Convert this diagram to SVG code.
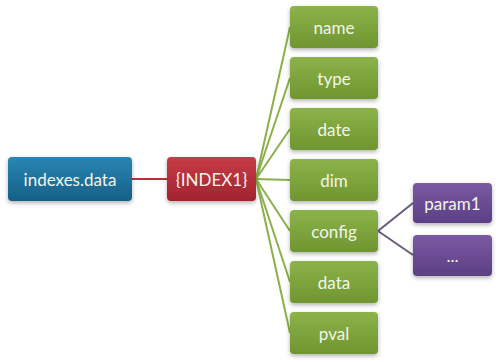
<svg xmlns="http://www.w3.org/2000/svg" width="496" height="362" viewBox="0 0 496 362">
<defs>
<linearGradient id="gBlue" x1="0" y1="0" x2="0" y2="1"><stop offset="0" stop-color="#2a86b3"/><stop offset="1" stop-color="#155f86"/></linearGradient>
<linearGradient id="gRed" x1="0" y1="0" x2="0" y2="1"><stop offset="0" stop-color="#c63c47"/><stop offset="1" stop-color="#a2232f"/></linearGradient>
<linearGradient id="gGreen" x1="0" y1="0" x2="0" y2="1"><stop offset="0" stop-color="#8cb34a"/><stop offset="1" stop-color="#6f9530"/></linearGradient>
<linearGradient id="gPurple" x1="0" y1="0" x2="0" y2="1"><stop offset="0" stop-color="#7a5aa3"/><stop offset="1" stop-color="#5c3f85"/></linearGradient>
<filter id="sh" x="-20%" y="-20%" width="140%" height="150%"><feDropShadow dx="0" dy="2" stdDeviation="2" flood-color="#000" flood-opacity="0.3"/></filter>
</defs>
<style>
.box{filter:url(#sh)}
text{font-family:Lato,"Open Sans","Liberation Sans",sans-serif;font-size:17px;fill:#f2f5ea;text-anchor:middle;dominant-baseline:central}
.cg{stroke:#8bb04a;stroke-width:2;fill:none}
.cr{stroke:#b5323d;stroke-width:2;fill:none}
.cp{stroke:#6b5a7f;stroke-width:2;fill:none}
</style>
<rect width="496" height="362" fill="#ffffff"/>
<g id="connectors">
<line class="cr" x1="132" y1="179" x2="167" y2="179"/>
<line class="cg" x1="256" y1="179" x2="290" y2="27"/>
<line class="cg" x1="256" y1="179" x2="290" y2="78"/>
<line class="cg" x1="256" y1="179" x2="290" y2="129"/>
<line class="cg" x1="256" y1="179" x2="290" y2="180"/>
<line class="cg" x1="256" y1="179" x2="290" y2="231"/>
<line class="cg" x1="256" y1="179" x2="290" y2="282"/>
<line class="cg" x1="256" y1="179" x2="290" y2="333"/>
<line class="cp" x1="378" y1="231" x2="413" y2="203"/>
<line class="cp" x1="378" y1="231" x2="413" y2="255"/>
</g>
<g id="indexes-data"><rect class="box" x="8" y="157" width="124" height="44" rx="4" fill="url(#gBlue)"/><text x="70" y="179">indexes.data</text></g>
<g id="index1"><rect class="box" x="167" y="157" width="89" height="44" rx="4" fill="url(#gRed)"/><text x="211.5" y="179">{INDEX1}</text></g>
<g id="name"><rect class="box" x="290" y="6" width="88" height="42" rx="4" fill="url(#gGreen)"/><text x="334" y="27">name</text></g>
<g id="type"><rect class="box" x="290" y="57" width="88" height="42" rx="4" fill="url(#gGreen)"/><text x="334" y="78">type</text></g>
<g id="date"><rect class="box" x="290" y="108" width="88" height="42" rx="4" fill="url(#gGreen)"/><text x="334" y="129">date</text></g>
<g id="dim"><rect class="box" x="290" y="159" width="88" height="42" rx="4" fill="url(#gGreen)"/><text x="334" y="180">dim</text></g>
<g id="config"><rect class="box" x="290" y="210" width="88" height="42" rx="4" fill="url(#gGreen)"/><text x="334" y="231">config</text></g>
<g id="data"><rect class="box" x="290" y="261" width="88" height="42" rx="4" fill="url(#gGreen)"/><text x="334" y="282">data</text></g>
<g id="pval"><rect class="box" x="290" y="312" width="88" height="42" rx="4" fill="url(#gGreen)"/><text x="334" y="333">pval</text></g>
<g id="param1"><rect class="box" x="413" y="183" width="79" height="40" rx="4" fill="url(#gPurple)"/><text x="452.5" y="203">param1</text></g>
<g id="ellipsis"><rect class="box" x="413" y="235" width="79" height="41" rx="4" fill="url(#gPurple)"/><text x="452.5" y="255">...</text></g>
</svg>
